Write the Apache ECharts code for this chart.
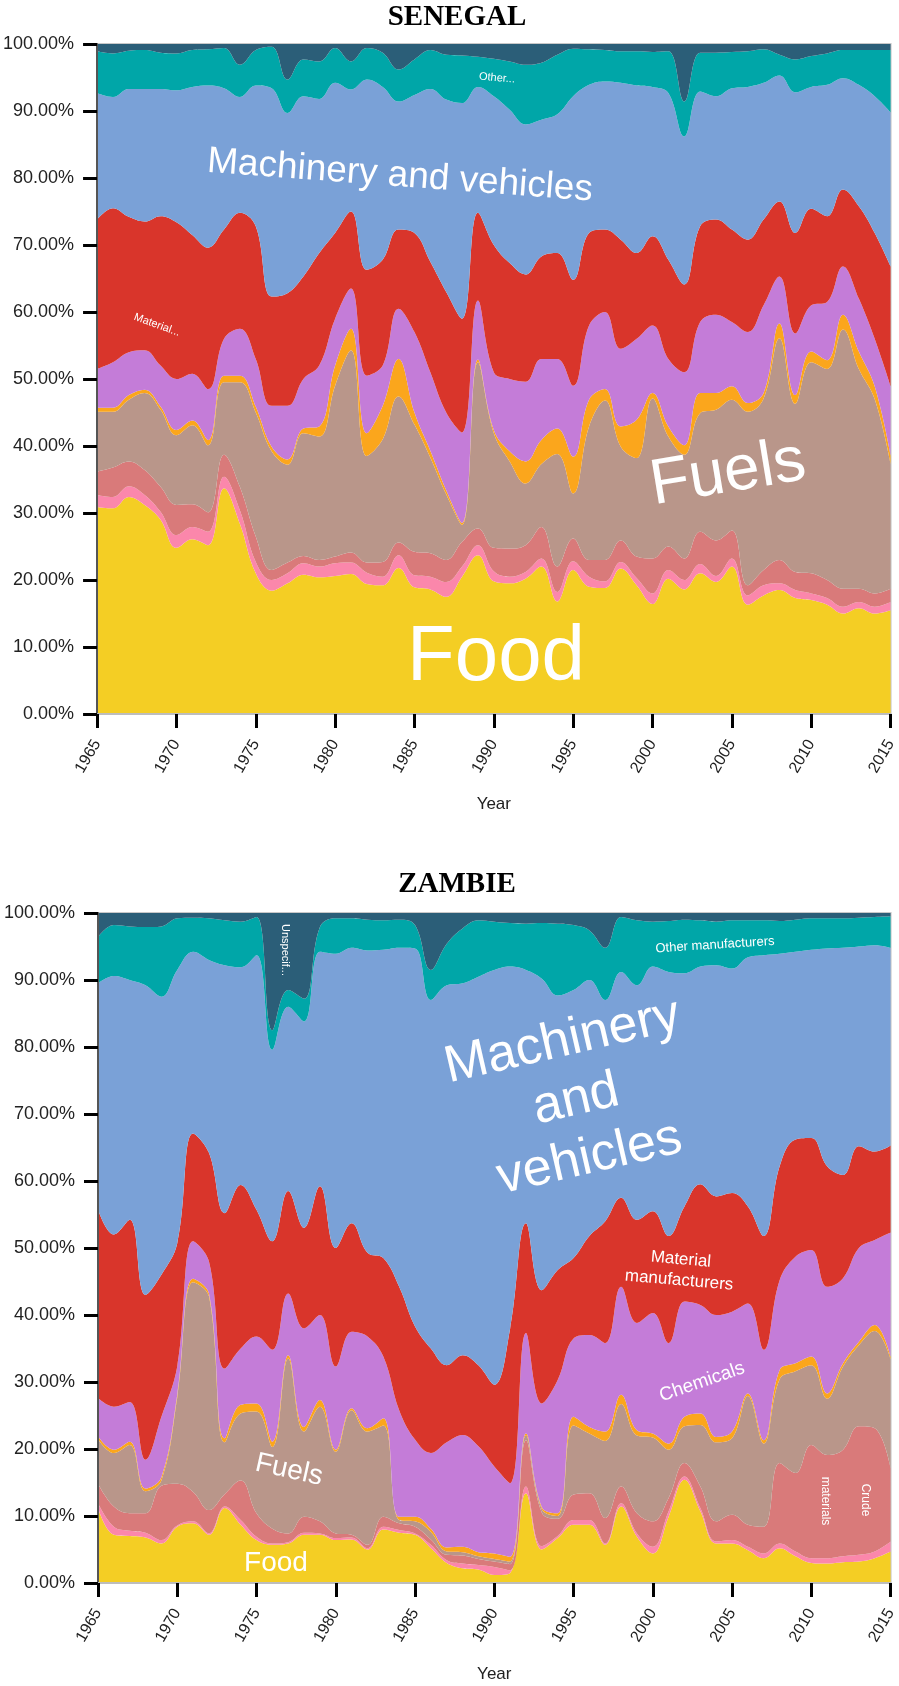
<!DOCTYPE html>
<html lang="en">
<head>
    <meta charset="UTF-8">
    <title>Senegal / Zambie - import shares by product group</title>
    <script src="https://cdn.jsdelivr.net/npm/echarts@6/dist/echarts.min.js"></script>
    <style>
        body {
            margin: 0;
            background: #fff;
        }
        #chart {
            width: 899px;
            height: 1686px;
        }
    </style>
</head>
<body>
    <div id="chart"></div>

    <script>
        // years on the x axis
        const years = ['1965', '1966', '1967', '1968', '1969', '1970', '1971', '1972', '1973', '1974',
            '1975', '1976', '1977', '1978', '1979', '1980', '1981', '1982', '1983', '1984',
            '1985', '1986', '1987', '1988', '1989', '1990', '1991', '1992', '1993', '1994',
            '1995', '1996', '1997', '1998', '1999', '2000', '2001', '2002', '2003', '2004',
            '2005', '2006', '2007', '2008', '2009', '2010', '2011', '2012', '2013', '2014',
            '2015'];

        // SENEGAL, share of each group (%)
        const snFood = [30.9, 30.7, 32.4, 31.2, 29.0, 24.8, 26.1, 25.2, 33.7, 28.4, 21.0, 18.4, 19.5, 20.8, 20.4, 20.6, 20.9, 19.4, 19.2, 21.8, 18.9, 18.6, 17.5, 20.5, 23.7, 19.8, 19.5, 20.2, 22.0, 16.8, 21.5, 19.0, 18.8, 21.7, 19.2, 16.4, 20.2, 18.6, 21.0, 19.7, 22.0, 16.3, 17.7, 18.5, 17.3, 17.0, 16.3, 15.0, 15.8, 15.0, 15.5];
        const snBev = [1.8, 1.7, 1.6, 1.5, 1.2, 1.9, 1.8, 2.0, 1.7, 2.0, 1.7, 1.6, 1.5, 1.7, 1.6, 1.9, 1.7, 1.7, 1.3, 1.9, 1.8, 1.9, 2.2, 1.5, 1.5, 1.5, 1.0, 1.0, 1.2, 1.4, 1.3, 1.5, 1.0, 1.0, 1.1, 1.6, 1.3, 1.4, 1.4, 0.9, 1.2, 1.4, 1.5, 1.0, 1.2, 1.0, 1.0, 1.0, 0.9, 1.0, 1.2];
        const snCrude = [3.5, 4.4, 3.7, 3.7, 3.7, 4.5, 3.4, 2.9, 3.3, 3.5, 3.8, 1.5, 1.6, 1.1, 1.0, 1.0, 1.5, 1.5, 2.2, 1.9, 3.5, 3.5, 3.3, 3.7, 2.5, 3.5, 4.2, 4.0, 4.7, 3.8, 3.4, 2.5, 3.2, 3.2, 3.2, 5.2, 3.5, 3.2, 4.8, 5.3, 4.2, 1.5, 2.3, 3.5, 2.7, 3.0, 2.7, 2.7, 2.0, 2.0, 2.0];
        const snFuels = [8.9, 8.3, 9.2, 11.5, 11.5, 10.4, 11.8, 10.0, 10.8, 15.6, 18.5, 17.7, 14.6, 18.3, 18.4, 25.5, 30.2, 15.9, 18.3, 21.8, 19.0, 14.3, 9.8, 2.5, 24.8, 17.1, 13.0, 9.2, 9.4, 16.8, 6.7, 19.9, 23.8, 14.0, 14.7, 23.9, 16.4, 15.5, 17.7, 19.5, 19.5, 25.9, 25.6, 33.1, 25.1, 31.5, 31.5, 38.7, 32.8, 29.0, 18.6];
        const snOils = [0.6, 0.6, 0.7, 0.5, 0.5, 0.8, 0.7, 0.8, 1.0, 1.0, 0.9, 0.7, 0.8, 0.7, 1.5, 3.0, 3.2, 3.4, 5.0, 5.6, 1.8, 1.0, 0.6, 0.3, 0.4, 0.5, 1.5, 3.3, 3.6, 3.8, 5.5, 4.0, 1.7, 3.0, 5.7, 0.8, 1.5, 1.4, 3.0, 2.5, 2.0, 1.3, 0.8, 2.2, 1.3, 1.6, 1.3, 2.2, 2.6, 1.9, 1.3];
        const snChem = [5.8, 6.8, 6.4, 5.9, 6.1, 7.6, 7.0, 7.6, 5.5, 7.0, 7.1, 6.1, 8.0, 7.4, 9.1, 7.0, 6.0, 8.6, 6.0, 7.5, 12.0, 11.7, 11.6, 13.5, 8.8, 8.6, 10.8, 11.9, 12.1, 10.4, 10.6, 11.1, 11.5, 11.6, 12.1, 10.1, 10.1, 10.9, 10.6, 11.7, 9.6, 10.6, 13.1, 7.0, 9.2, 6.9, 8.7, 7.2, 7.9, 7.1, 10.3];
        const snMatman = [22.3, 23.0, 20.2, 19.2, 22.3, 23.4, 20.7, 21.1, 16.3, 17.3, 19.8, 16.3, 16.8, 15.3, 16.8, 12.8, 11.5, 15.8, 15.8, 11.8, 14.8, 16.5, 18.0, 17.0, 13.1, 19.0, 17.3, 16.0, 15.3, 15.8, 15.8, 13.8, 12.3, 16.3, 12.8, 13.3, 14.8, 13.1, 14.3, 14.2, 13.8, 13.8, 12.8, 11.2, 15.0, 14.4, 12.8, 11.5, 13.8, 15.8, 17.9];
        const snMach = [18.9, 16.6, 19.1, 19.8, 19.0, 19.7, 22.1, 24.2, 21.1, 17.3, 21.0, 31.1, 26.9, 26.9, 23.0, 22.4, 18.2, 28.4, 25.8, 19.1, 20.6, 25.8, 28.7, 32.2, 18.8, 22.2, 22.9, 22.4, 20.4, 20.7, 27.4, 22.1, 22.1, 23.4, 25.0, 22.3, 24.9, 22.1, 20.1, 18.4, 21.1, 22.8, 20.4, 18.8, 21.0, 18.2, 19.6, 16.6, 18.1, 20.4, 23.0];
        const snOther = [6.2, 6.5, 5.7, 5.8, 5.4, 5.5, 5.5, 5.4, 6.0, 4.8, 5.3, 6.2, 5.0, 5.5, 5.6, 5.2, 4.2, 4.7, 5.1, 4.8, 5.3, 5.8, 6.7, 7.1, 4.5, 5.6, 7.2, 8.9, 8.5, 8.9, 7.1, 5.3, 4.7, 4.7, 5.1, 5.2, 6.2, 5.2, 5.8, 6.5, 5.4, 5.3, 5.0, 3.1, 4.9, 4.6, 4.7, 4.2, 5.2, 6.9, 9.3];
        const snUnspec = [1.1, 1.4, 1.0, 0.9, 1.3, 1.4, 0.9, 0.8, 0.6, 3.1, 0.9, 0.4, 5.3, 2.3, 2.6, 0.6, 2.6, 0.6, 1.3, 3.8, 2.3, 0.9, 1.6, 1.7, 1.9, 2.2, 2.6, 3.1, 2.8, 1.6, 0.7, 0.8, 0.9, 1.1, 1.1, 1.2, 1.1, 8.6, 1.3, 1.3, 1.2, 1.1, 0.8, 1.6, 2.3, 1.8, 1.4, 0.9, 0.9, 0.9, 0.9];

        // ZAMBIE, share of each group (%)
        const zmFood = [11.2, 7.2, 7.0, 6.8, 5.9, 8.4, 8.9, 7.2, 11.2, 8.7, 6.4, 5.7, 5.9, 7.2, 7.2, 6.4, 6.5, 5.0, 8.0, 7.5, 7.2, 5.2, 3.0, 2.2, 2.0, 1.2, 1.5, 13.4, 5.0, 6.7, 8.7, 8.7, 5.7, 11.4, 6.9, 4.4, 9.9, 15.4, 10.7, 5.9, 5.9, 4.9, 3.7, 5.2, 4.0, 3.0, 2.9, 3.1, 3.2, 3.7, 4.7];
        const zmBev = [0.7, 1.2, 0.8, 0.7, 0.5, 0.2, 0.3, 0.2, 0.2, 0.7, 0.5, 0.2, 0.2, 0.3, 0.2, 0.3, 0.3, 0.2, 0.4, 0.4, 0.2, 0.5, 0.4, 0.7, 0.7, 1.2, 0.4, 1.0, 0.5, 0.3, 0.7, 0.7, 0.2, 0.5, 0.5, 1.0, 0.8, 0.5, 0.5, 0.3, 0.5, 0.5, 0.7, 0.7, 0.7, 0.7, 0.8, 0.9, 1.0, 1.0, 1.5];
        const zmCrude = [2.9, 3.0, 2.6, 2.9, 8.1, 6.2, 4.4, 3.5, 1.9, 5.9, 3.5, 2.2, 1.3, 2.4, 1.8, 0.7, 0.4, 0.5, 1.5, 1.0, 1.0, 0.8, 0.8, 1.2, 0.9, 0.8, 0.9, 6.9, 5.0, 2.6, 3.8, 4.0, 3.8, 2.5, 3.0, 3.8, 2.0, 2.0, 3.2, 3.0, 3.8, 3.3, 4.0, 12.0, 11.7, 16.9, 15.4, 15.9, 19.2, 18.4, 11.0];
        const zmFuels = [6.7, 8.0, 10.2, 3.3, 0.8, 12.9, 31.3, 31.9, 7.7, 10.0, 15.2, 12.2, 26.1, 12.7, 17.1, 12.2, 18.6, 16.9, 13.6, 0.5, 0.8, 1.1, 0.5, 0.5, 0.4, 0.4, 0.4, 0.7, 0.5, 0.4, 10.3, 8.9, 11.5, 12.3, 11.6, 12.5, 7.2, 5.5, 9.2, 11.8, 11.4, 19.2, 12.4, 12.5, 15.2, 11.9, 8.4, 12.4, 12.1, 14.5, 16.2];
        const zmOils = [0.4, 0.5, 0.5, 0.4, 0.5, 0.4, 0.5, 0.4, 0.6, 1.3, 1.2, 0.8, 0.5, 0.7, 1.0, 0.3, 0.3, 0.5, 1.1, 0.5, 0.7, 0.5, 0.6, 0.8, 0.6, 0.8, 0.7, 0.3, 0.3, 0.4, 1.3, 1.0, 1.4, 1.4, 0.8, 0.6, 0.9, 1.4, 1.7, 0.8, 1.0, 0.4, 0.5, 1.4, 1.2, 1.3, 0.8, 0.5, 0.5, 0.9, 0.4];
        const zmChem = [5.7, 6.4, 5.9, 4.3, 9.0, 4.2, 5.6, 4.8, 10.4, 8.4, 10.0, 13.7, 9.2, 14.7, 12.7, 12.4, 11.4, 13.7, 9.2, 15.9, 11.5, 11.3, 15.7, 16.7, 15.8, 13.0, 11.0, 15.0, 15.5, 19.9, 11.7, 13.7, 13.2, 16.1, 16.0, 18.0, 15.0, 17.2, 16.2, 18.2, 17.9, 13.4, 13.5, 13.4, 15.9, 15.9, 15.9, 12.7, 14.0, 12.7, 18.5];
        const zmMatman = [28.1, 25.7, 27.2, 24.6, 21.2, 18.4, 16.1, 16.2, 23.2, 24.4, 18.9, 16.2, 15.3, 15.0, 19.2, 17.7, 16.2, 12.5, 14.7, 18.4, 16.9, 15.6, 11.5, 11.9, 12.1, 12.2, 23.1, 16.4, 16.9, 16.4, 12.0, 14.8, 18.2, 13.3, 15.4, 15.2, 16.0, 14.2, 18.0, 17.7, 17.7, 14.5, 17.0, 17.0, 17.5, 16.7, 18.0, 15.4, 15.2, 13.2, 13.0];
        const zmMach = [33.8, 38.6, 35.8, 46.2, 41.5, 40.8, 27.1, 28.8, 37.0, 32.5, 38.0, 28.6, 27.5, 30.8, 35.0, 43.9, 41.1, 45.1, 46.0, 50.6, 56.4, 52.0, 56.7, 55.5, 58.0, 61.9, 54.0, 37.8, 46.5, 41.0, 40.0, 38.2, 33.0, 33.7, 35.0, 36.5, 39.4, 34.8, 32.5, 34.5, 33.5, 37.2, 41.9, 31.7, 28.0, 28.1, 32.5, 33.9, 29.8, 30.8, 29.5];
        const zmOther = [6.9, 7.6, 8.0, 8.7, 10.5, 7.7, 5.1, 6.2, 6.7, 6.8, 5.7, 2.9, 2.5, 3.4, 3.7, 5.3, 4.4, 4.6, 4.4, 4.2, 3.5, 4.5, 6.2, 8.2, 8.4, 7.2, 6.5, 6.9, 8.3, 10.7, 9.7, 7.4, 7.8, 8.2, 9.7, 6.7, 7.6, 8.0, 6.9, 6.5, 7.2, 5.5, 5.2, 4.9, 4.8, 4.7, 4.5, 4.4, 4.3, 4.2, 4.7];
        const zmUnspec = [3.6, 1.8, 2.0, 2.1, 2.0, 0.8, 0.7, 0.8, 1.1, 1.3, 0.6, 17.5, 11.5, 12.8, 2.1, 0.8, 0.8, 1.0, 1.1, 1.0, 1.8, 8.5, 4.6, 2.3, 1.1, 1.3, 1.5, 1.6, 1.5, 1.6, 1.8, 2.6, 5.2, 0.6, 1.1, 1.3, 1.2, 1.0, 1.1, 1.3, 1.1, 1.1, 1.1, 1.2, 1.0, 0.8, 0.8, 0.8, 0.7, 0.6, 0.5];

        // product groups, bottom to top
        const groupNames = ['Food', 'Beverages and tobacco', 'Crude materials', 'Fuels',
            'Animal and vegetable oils', 'Chemicals', 'Material manufacturers',
            'Machinery and vehicles', 'Other manufacturers', 'Unspecified'];
        const groupColors = ['#f4ce24', '#fb87ab', '#d97a7a', '#b9968a', '#fba61c',
            '#c47cd8', '#d9352b', '#7aa1d7', '#00a6a8', '#2b5e78'];

        const senegal = [snFood, snBev, snCrude, snFuels, snOils, snChem, snMatman, snMach, snOther, snUnspec];
        const zambie = [zmFood, zmBev, zmCrude, zmFuels, zmOils, zmChem, zmMatman, zmMach, zmOther, zmUnspec];

        const yTicks = [0, 10, 20, 30, 40, 50, 60, 70, 80, 90, 100];

        const sans = '"Liberation Sans", Arial, Helvetica, sans-serif';

        // white labels written inside the areas
        const areaLabels = [
            { text: 'Machinery and vehicles', x: 400, y: 176, size: 37, angle: -4.3 },
            { text: 'Fuels', x: 728, y: 474, size: 64, angle: 9.4 },
            { text: 'Food', x: 496, y: 658, size: 78, angle: 0 },
            { text: 'Material...', x: 157, y: 325, size: 11, angle: -20 },
            { text: 'Other...', x: 497, y: 78, size: 11, angle: -5 },
            { text: 'Machinery\nand\nvehicles', x: 576, y: 1100, size: 52, angle: 13, lh: 60 },
            { text: 'Other manufacturers', x: 715, y: 945, size: 13, angle: 3.7 },
            { text: 'Unspecif...', x: 285, y: 950, size: 11, angle: -90 },
            { text: 'Material\nmanufacturers', x: 680, y: 1270, size: 17, angle: -5, lh: 21 },
            { text: 'Chemicals', x: 702, y: 1382, size: 19, angle: 19 },
            { text: 'Fuels', x: 289, y: 1470, size: 28, angle: -12.5 },
            { text: 'Food', x: 276, y: 1563, size: 28, angle: 0 },
            { text: 'Crude', x: 865, y: 1500, size: 12, angle: -90 },
            { text: 'materials', x: 825, y: 1501, size: 12, angle: -90 }
        ];

        const chart = echarts.init(document.getElementById('chart'));

        function makeSeries(values, idx) {
            return groupNames.map((name, k) => ({
                name: name,
                type: 'line',
                xAxisIndex: idx,
                yAxisIndex: idx,
                stack: 'country' + idx,
                data: values[k],
                smooth: 0.4,
                symbol: 'none',
                silent: true,
                lineStyle: { width: 0 },
                itemStyle: { color: groupColors[k] },
                areaStyle: { color: groupColors[k], opacity: 1 }
            }));
        }

        function makeXAxis(idx, gap) {
            return {
                gridIndex: idx,
                type: 'category',
                data: years,
                boundaryGap: false,
                z: 5,
                name: 'Year',
                nameLocation: 'middle',
                nameGap: gap,
                nameTextStyle: { fontSize: 17, color: '#222', fontFamily: sans },
                axisLine: { show: true, onZero: false, lineStyle: { color: '#bdbdbd', width: 2 } },
                axisTick: { show: true, interval: 4, length: 14, lineStyle: { color: '#000', width: 3 } },
                axisLabel: {
                    interval: 4,
                    rotate: 60,
                    margin: 27,
                    fontSize: 16,
                    color: '#222',
                    fontFamily: sans
                },
                splitLine: { show: false }
            };
        }

        function makeYAxis(idx) {
            return {
                gridIndex: idx,
                type: 'value',
                min: yTicks[0],
                max: yTicks[yTicks.length - 1],
                interval: 10,
                z: 5,
                axisLine: { show: true, onZero: false, lineStyle: { color: '#555', width: 2 } },
                axisTick: { show: true, length: 14, lineStyle: { color: '#000', width: 3 } },
                axisLabel: {
                    margin: 23,
                    fontSize: 18,
                    color: '#222',
                    fontFamily: sans,
                    formatter: v => v.toFixed(2) + '%'
                },
                splitLine: { show: false }
            };
        }

        const titles = [
            { text: 'SENEGAL', x: 457, y: 18 },
            { text: 'ZAMBIE', x: 457, y: 885 }
        ];

        const graphics = titles.map(t => ({
            type: 'text',
            x: t.x,
            y: t.y,
            z: 100,
            style: {
                text: t.text,
                fill: '#000',
                font: 'bold 29px "Liberation Serif", "Times New Roman", serif',
                align: 'center',
                verticalAlign: 'middle'
            }
        })).concat(areaLabels.map(l => ({
            type: 'text',
            x: l.x,
            y: l.y,
            rotation: l.angle * Math.PI / 180,
            z: 100,
            silent: true,
            style: {
                text: l.text,
                fill: '#fff',
                font: l.size + 'px ' + sans,
                lineHeight: l.lh || l.size * 1.2,
                align: 'center',
                verticalAlign: 'middle'
            }
        })));

        const option = {
            animation: false,
            grid: [
                { left: 96, top: 44, width: 799, height: 670, show: true, borderColor: '#c8c8c8', borderWidth: 2 },
                { left: 98, top: 913, width: 799, height: 670, show: true, borderColor: '#c8c8c8', borderWidth: 2 }
            ],
            xAxis: [makeXAxis(0, 82), makeXAxis(1, 83)],
            yAxis: [makeYAxis(0), makeYAxis(1)],
            series: makeSeries(senegal, 0).concat(makeSeries(zambie, 1)),
            graphic: graphics
        };

        chart.setOption(option);

        window.addEventListener('resize', function () {
            chart.resize();
        });
    </script>
</body>
</html>
